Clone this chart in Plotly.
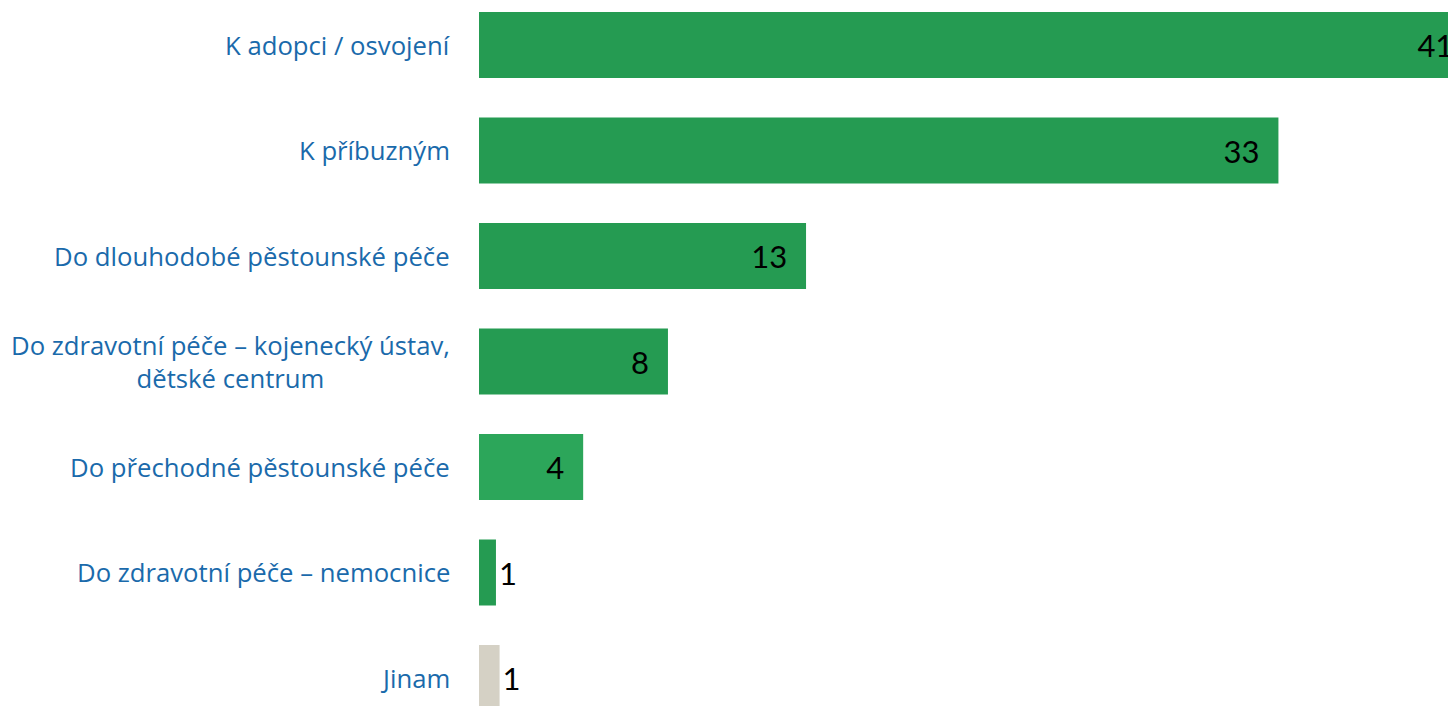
import plotly.graph_objects as go

categories = [
    "K adopci / osvojení",
    "K příbuzným",
    "Do dlouhodobé pěstounské péče",
    "Do zdravotní péče – kojenecký ústav, dětské centrum",
    "Do přechodné pěstounské péče",
    "Do zdravotní péče – nemocnice",
    "Jinam",
]
display_labels = [
    "K adopci / osvojení",
    "K příbuzným",
    "Do dlouhodobé pěstounské péče",
    "Do zdravotní péče – kojenecký ústav,<br>dětské centrum",
    "Do přechodné pěstounské péče",
    "Do zdravotní péče – nemocnice",
    "Jinam",
]
values = [41.0, 33.0, 13.5, 7.8, 4.3, 0.7, 0.85]
value_labels = ["41", "33", "13", "8", "4", "1", "1"]
bar_colors = ["#259B52", "#259B52", "#259B52", "#259B52", "#2CA65A", "#259B52", "#D5D1C5"]
text_positions = ["inside", "inside", "inside", "inside", "inside", "outside", "outside"]

pad = "\u00a0\u00a0"
texts = [t + pad if p == "inside" else t for t, p in zip(value_labels, text_positions)]

fig = go.Figure(
    go.Bar(
        x=values,
        y=categories,
        orientation="h",
        marker=dict(color=bar_colors, line=dict(width=0)),
        text=texts,
        textposition=text_positions,
        insidetextanchor="end",
        constraintext="none",
        textfont=dict(family="Lato, sans-serif", size=31, color="#000000"),
        outsidetextfont=dict(family="Lato, sans-serif", size=31, color="#000000"),
        cliponaxis=True,
        hoverinfo="skip",
    )
)

annotations = []
for cat, lab in zip(categories, display_labels):
    annotations.append(
        dict(
            x=0, xref="paper", y=cat, yref="y",
            xanchor="right", yanchor="middle",
            xshift=-27,
            text=lab, showarrow=False, align="center",
            font=dict(family="Open Sans, sans-serif", size=25.7, color="#1A6AAB"),
        )
    )

fig.update_layout(
    width=1448,
    height=706,
    margin=dict(l=479, r=0, t=0, b=0),
    paper_bgcolor="white",
    plot_bgcolor="white",
    bargap=0.374,
    showlegend=False,
    annotations=annotations,
    xaxis=dict(range=[0, 40.0], visible=False, showgrid=False, zeroline=False),
    yaxis=dict(
        categoryorder="array",
        categoryarray=categories,
        range=[6.265, -0.4265],
        showticklabels=False,
        showgrid=False,
        zeroline=False,
        ticks="",
    ),
)

fig.write_html(
    "out.html",
    config={"displayModeBar": False},
    post_script="document.body.style.margin='0';document.body.style.overflow='hidden';",
)
